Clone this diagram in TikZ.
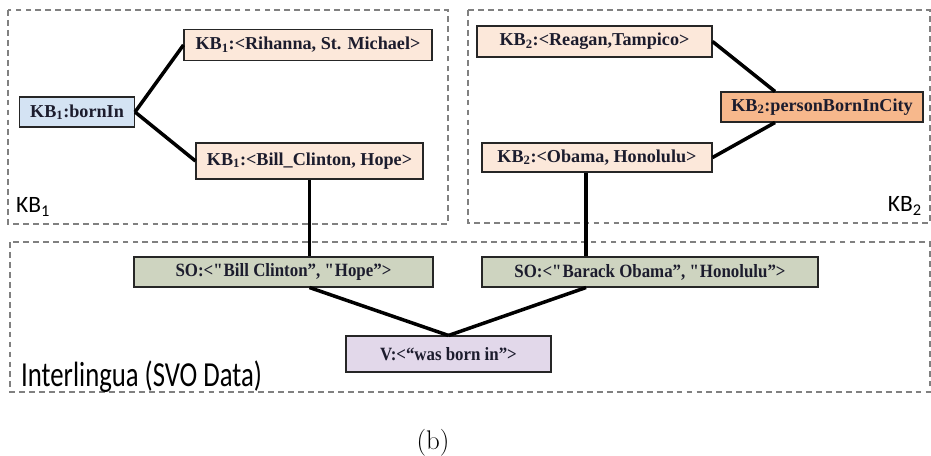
\documentclass[tikz,border=0pt]{standalone}
\usepackage{fontspec}
\usepackage{xcolor}
\usetikzlibrary{positioning}
\newfontfamily\boxfont{Liberation Serif}
\newfontfamily\svofont{Liberation Serif}[FakeStretch=0.9]
\newfontfamily\tagfont{Carlito}
\newfontfamily\ilfont{Carlito}[FakeStretch=0.76]
\definecolor{kbpeach}{RGB}{252,232,218}
\definecolor{kborange}{RGB}{247,184,140}
\definecolor{kbblue}{RGB}{212,227,243}
\definecolor{svogreen}{RGB}{206,212,192}
\definecolor{svopurple}{RGB}{226,216,234}
\definecolor{framegray}{RGB}{128,128,128}
\definecolor{inkdark}{RGB}{28,28,45}
\newcommand{\kb}[1]{KB\textsubscript{#1}}

\begin{document}
\begin{tikzpicture}[x=0.03cm, y=-0.03cm,
        box/.style={rectangle,draw=black!85,line width=0.9pt,inner sep=0pt,text=inkdark,
          minimum height=0.9cm,align=center,font=\boxfont\bfseries\fontsize{15.5}{17}\selectfont},
        svo/.style={box,font=\svofont\bfseries\fontsize{16}{18}\selectfont},
        frame/.style={draw=framegray,line width=1.2pt,dash pattern=on 5pt off 3.5pt},
        link/.style={line width=3pt},
        tag/.style={inner sep=0pt,font=\tagfont\fontsize{20}{22}\selectfont}]
        \useasboundingbox (0,0) rectangle (931,456);
        % dashed frames
        \draw[frame] (8,10) rectangle (448,224);
        \draw[frame] (468,10) rectangle (930,223);
        \draw[frame] (10,242) rectangle (930,392);
        \node[tag,anchor=base west] (t1) at (16,213) {\kb{1}};
        \node[tag,anchor=base east] (t2) at (922,212) {\kb{2}};
        \node[tag,anchor=base west,font=\ilfont\fontsize{30}{32}\selectfont] (t3) at (21,386) {Interlingua (SVO Data)};
        % KB1
        \node[box,fill=kbblue,minimum width=3.45cm] (bi) at (77,112) {\kb{1}:bornIn};
        \node[box,fill=kbpeach,minimum width=7.44cm,minimum height=0.93cm] (rh) at (308,45) {\kb{1}:<Rihanna, St. Michael>};
        \node[box,fill=kbpeach,minimum width=6.81cm,minimum height=1.08cm] (bc) at (309.5,161) {\kb{1}:<Bill\_Clinton, Hope>};
        % KB2
        \node[box,fill=kbpeach,minimum width=7.05cm,minimum height=0.93cm] (rt) at (594.5,41.5) {\kb{2}:<Reagan,Tampico>};
        \node[box,fill=kborange,minimum width=6.06cm] (pb) at (822,107) {\kb{2}:personBornInCity};
        \node[box,fill=kbpeach,minimum width=6.9cm,minimum height=0.87cm] (ob) at (597,157.5) {\kb{2}:<Obama, Honolulu>};
        % interlingua
        \node[svo,fill=svogreen,minimum width=8.97cm] (s1) at (283.5,272) {SO:<\textquotedbl Bill Clinton”, \textquotedbl Hope”>};
        \node[svo,fill=svogreen,minimum width=10.08cm] (s2) at (650,272) {SO:<\textquotedbl Barack Obama”, \textquotedbl Honolulu”>};
        \node[svo,fill=svopurple,minimum width=6.15cm,minimum height=1.08cm] (v) at (448.5,354) {V:<“was born in”>};
        \node[font=\fontsize{23}{25}\selectfont] (cap) at (433,443) {(b)};
        % links
        \draw[link] (bi.east) -- (rh.west);
        \draw[link] (bi.east) -- (bc.west);
        \draw[link] (rt.east) -- ([xshift=-1.41cm]pb.north);
        \draw[link] ([xshift=-1.41cm]pb.south) -- (ob.east);
        \draw[link] (bc.south) -- (bc.south |- s1.north);
        \draw[link] ([xshift=-0.33cm]ob.south) -- ([xshift=-0.33cm]ob.south |- s2.north);
        \draw[link] (bc.south |- s1.south) -- (v.north);
        \draw[link] ([xshift=-0.33cm]ob.south |- s2.south) -- (v.north);
      \end{tikzpicture}
\end{document}
